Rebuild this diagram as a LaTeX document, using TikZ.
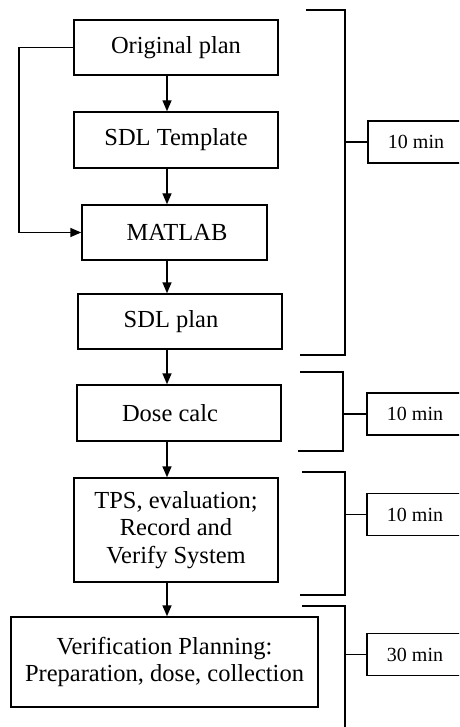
\documentclass[tikz,border=0pt]{standalone}
\usepackage{fontspec}
\setmainfont{Liberation Serif}
\usetikzlibrary{arrows.meta}
\begin{document}
\begin{tikzpicture}[x=1pt,y=-1pt,
  box/.style={draw,line width=1.4pt,rectangle,inner sep=0pt,align=center,
    font=\fontsize{24.5}{27.5}\selectfont},
  tbox/.style={draw,line width=1.4pt,rectangle,inner sep=0pt,minimum width=96pt,minimum height=42pt,
    font=\fontsize{20}{24}\selectfont},
  arr/.style={line width=1.4pt,-{Triangle[length=11pt,width=9pt]}},
  brk/.style={line width=1.4pt}]
\useasboundingbox (0,0) rectangle (459,727);
\clip (0,0) rectangle (459,727);
% flow boxes
\node[box,minimum width=204pt,minimum height=55pt] (orig) at (176,47.5) {Original plan};
\node[box,minimum width=204pt,minimum height=56pt] (tmpl) at (176,140) {SDL Template};
\node[box,minimum width=185pt,minimum height=55pt] (matlab) at (174.5,232.5) {\hspace*{5pt}MATLAB};
\node[box,minimum width=204pt,minimum height=55pt] (sdl) at (180,321.5) {SDL plan\hspace*{18pt}};
\node[box,minimum width=204pt,minimum height=56pt] (dose) at (179,413) {Dose calc\hspace*{18pt}};
\node[box,minimum width=204pt,minimum height=104pt] (tps) at (176,530) {TPS, evaluation;\\Record and\\Verify System};
\node[box,minimum width=307pt,minimum height=90pt] (verif) at (164.5,662) {Verification Planning:\\Preparation, dose, collection};
% arrows
\coordinate (cx) at (167,0);
\draw[arr] (orig.south -| cx) -- (tmpl.north -| cx);
\draw[arr] (tmpl.south -| cx) -- (matlab.north -| cx);
\draw[arr] (matlab.south -| cx) -- (sdl.north -| cx);
\draw[arr] (sdl.south -| cx) -- (dose.north -| cx);
\draw[arr] (dose.south -| cx) -- (tps.north -| cx);
\draw[arr] (tps.south -| cx) -- (verif.north -| cx);
\coordinate (lx) at (19,0);
\draw[arr] (orig.west) -- (orig.west -| lx) -- (matlab.west -| lx) -- (matlab.west);
% time boxes
\node[tbox] (t1) at (416,142) {10 min};
\node[tbox] (t2) at (415,414) {10 min};
\node[tbox] (t3) at (415,514.5) {10 min};
\node[tbox] (t4) at (415,654.5) {30 min};
% brackets
\coordinate (b1a) at (306,10); \coordinate (b1b) at (345,10);
\coordinate (b1c) at (345,355); \coordinate (b1d) at (300,355);
\draw[brk] (b1a) -- (b1b) -- (b1c) -- (b1d);
\draw[brk] (t1.west -| b1b) -- (t1.west);
\coordinate (b2a) at (300,372); \coordinate (b2b) at (343,372);
\coordinate (b2c) at (343,451); \coordinate (b2d) at (298,451);
\draw[brk] (b2a) -- (b2b) -- (b2c) -- (b2d);
\draw[brk] (t2.west -| b2b) -- (t2.west);
\coordinate (b3a) at (302,472); \coordinate (b3b) at (345,472);
\coordinate (b3c) at (345,595); \coordinate (b3d) at (300,595);
\draw[brk] (b3a) -- (b3b) -- (b3c) -- (b3d);
\draw[brk] (t3.west -| b3b) -- (t3.west);
\coordinate (b4a) at (302,606); \coordinate (b4b) at (345,606);
\coordinate (b4c) at (345,740);
\draw[brk] (b4a) -- (b4b) -- (b4c);
\draw[brk] (t4.west -| b4b) -- (t4.west);
\end{tikzpicture}
\end{document}
